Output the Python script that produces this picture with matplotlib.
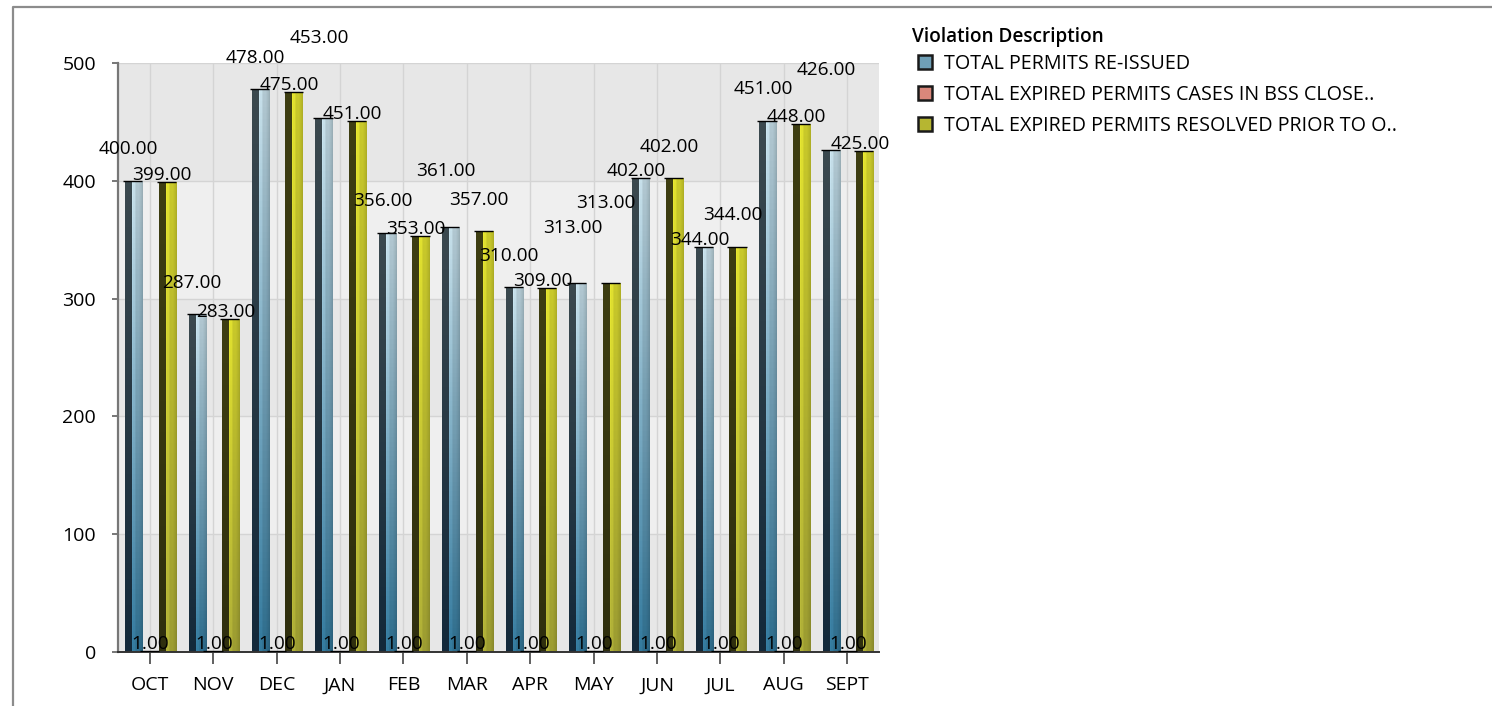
import numpy as np
import matplotlib
matplotlib.use("Agg")
import matplotlib.pyplot as plt
import matplotlib.colors as mcolors
from matplotlib.patches import Patch
from matplotlib.lines import Line2D

plt.rcParams['font.family'] = ['Open Sans', 'DejaVu Sans']

# ---- data -------------------------------------------------------------
months = ['OCT', 'NOV', 'DEC', 'JAN', 'FEB', 'MAR', 'APR', 'MAY', 'JUN', 'JUL', 'AUG', 'SEPT']
reissued = [400, 287, 478, 453, 356, 361, 310, 313, 402, 344, 451, 426]
bss_closed = [1, 1, 1, 1, 1, 1, 1, 1, 1, 1, 1, 1]
resolved_prior = [399, 283, 475, 451, 353, 357, 309, 313, 402, 344, 448, 425]
series_names = ['TOTAL PERMITS RE-ISSUED',
                'TOTAL EXPIRED PERMITS CASES IN BSS CLOSE..',
                'TOTAL EXPIRED PERMITS RESOLVED PRIOR TO O..']

# stacking level of each value label (chart engine pushed them up to avoid overlap)
reissued_lvl = [1, 1, 1, 3, 1, 2, 1, 2, 0, 0, 1, 3]
closed_lvl = [0] * 12
resolved_lvl = [0, 0, 0, 0, 0, 1, 0, 3, 1, 1, 0, 0]

W, H = 1492, 706
fig = plt.figure(figsize=(W / 100, H / 100), dpi=100)
ax = fig.add_axes([118 / W, 1 - 652 / H, 761 / W, 589 / H])


def shade(dark_top, dark_bot, light_top, light_bot, n=90):
    dt, db, lt, lb = [np.array(mcolors.to_rgb(c)) for c in (dark_top, dark_bot, light_top, light_bot)]
    t = np.linspace(0, 1, n)[:, None, None]
    dark = dt + (db - dt) * t
    light = lt + (lb - lt) * t
    gain = np.array([1.16, 1.12, 1.05, 1.0, 1.0, 1.0, 0.98, 0.95, 0.92, 0.88])[None, :, None]
    return np.concatenate([np.repeat(dark, 7, axis=1), np.clip(light * gain, 0, 1)], axis=1)


styles = [
    dict(img=shade('#3b494f', '#13293a', '#b2c8d1', '#2e6d8d'), mid='#6f9fb6'),
    dict(img=shade('#5c2a24', '#401a16', '#e39484', '#b85a4c'), mid='#d9877b'),
    dict(img=shade('#3e3e12', '#2f2f0e', '#c9c92a', '#9c9c32'), mid='#b6b631'),
]

x = np.arange(len(months))
offsets = [-0.252, 0.012, 0.276]
width = 0.272
all_vals = [reissued, bss_closed, resolved_prior]
all_lvls = [reissued_lvl, closed_lvl, resolved_lvl]

# background bands
for k, lo in enumerate(range(0, 500, 100)):
    ax.axhspan(lo, lo + 100, color='#e7e7e7' if k % 2 == 0 else '#efefef', zorder=0, lw=0)

for s, (vals, lvls) in enumerate(zip(all_vals, all_lvls)):
    bars = ax.bar(x + offsets[s], vals, width, color=styles[s]['mid'], zorder=2, linewidth=0)
    for b in bars:
        x0, w, h = b.get_x(), b.get_width(), b.get_height()
        im = ax.imshow(styles[s]['img'], extent=[x0, x0 + w, 0, h], aspect='auto',
                       interpolation='nearest', zorder=2.1)
        im.set_clip_path(b)
    ax.hlines(vals, x + offsets[s] - width / 2 - 0.03, x + offsets[s] + width / 2,
              color='black', lw=1.0, zorder=3)
    dx = 0 if s == 1 else -5
    for xi, v, L in zip(x + offsets[s], vals, lvls):
        ax.annotate('%.2f' % v, (xi, v), xytext=(dx, 9 + 24.3 * L - 7), textcoords='offset pixels',
                    ha='center', va='baseline', fontsize=13.7, color='black', zorder=5,
                    annotation_clip=False)

ax.set_xlim(-0.5, len(months) - 0.5)
ax.set_ylim(0, 500)
ax.set_xticks(x)
ax.set_xticklabels(months)
ax.set_yticks(range(0, 501, 100))
ax.grid(True, color='#d4d4d4', lw=1)
ax.set_axisbelow(True)
ax.tick_params(axis='x', length=8.6, width=1.2, color='#444444', pad=9, labelsize=14)
ax.tick_params(axis='y', length=4.3, width=1.4, color='#777777', pad=11.5, labelsize=14)
for sp in ['top', 'right']:
    ax.spines[sp].set_visible(False)
ax.spines['left'].set_color('#777777')
ax.spines['left'].set_linewidth(1.6)
ax.spines['bottom'].set_color('#333333')
ax.spines['bottom'].set_linewidth(1.4)

# legend
fig.text(912 / W, 1 - 37 / H, 'Violation Description', fontsize=13.7, fontweight='semibold',
         va='center', ha='left')
handles = [Patch(facecolor=st['mid'], edgecolor='#1a1a1a', linewidth=1.8) for st in styles]
fig.legend(handles, series_names, loc='upper left', bbox_to_anchor=(918 / W, 1 - 54 / H),
           frameon=False, borderpad=0, borderaxespad=0, fontsize=14.2, handlelength=0.72,
           handleheight=0.72, handletextpad=0.6, labelspacing=0.55)

# outer frame
fig.add_artist(Line2D([12.5 / W, 12.5 / W, 1], [0, 1 - 7 / H, 1 - 7 / H], transform=fig.transFigure,
                      color='#8c8c8c', lw=1.6))

fig.savefig('out.png', dpi=100)
